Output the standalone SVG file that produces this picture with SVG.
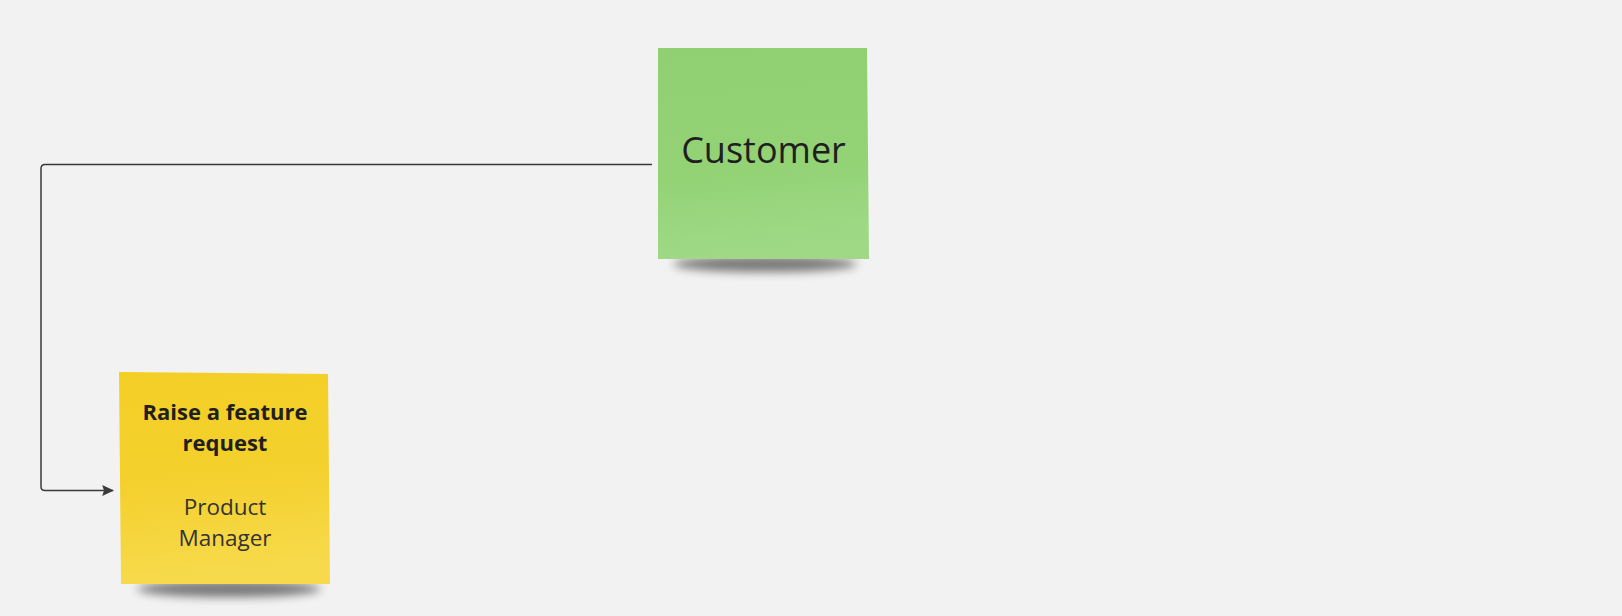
<svg xmlns="http://www.w3.org/2000/svg" width="1622" height="616" viewBox="0 0 1622 616">
  <style>
    .title { font-family: "Open Sans", "Noto Sans", sans-serif; font-size: 36px; fill: #1f1f1f; }
    .bold { font-family: "Open Sans", "Noto Sans", sans-serif; font-size: 22px; font-weight: bold; fill: #1f1f1f; }
    .reg { font-family: "Open Sans", "Noto Sans", sans-serif; font-size: 22.5px; fill: #333333; }
    .conn { fill: none; stroke: #3a3a3a; stroke-width: 1.5; }
  </style>
  <defs>
    <linearGradient id="gGreen" x1="0" y1="0" x2="0.1" y2="1">
      <stop offset="0" stop-color="#90d072"/>
      <stop offset="0.6" stop-color="#93d275"/>
      <stop offset="1" stop-color="#9fd986"/>
    </linearGradient>
    <linearGradient id="gYellow" x1="0" y1="0" x2="0.1" y2="1">
      <stop offset="0" stop-color="#f3cf26"/>
      <stop offset="0.5" stop-color="#f4d02c"/>
      <stop offset="1" stop-color="#f7da4c"/>
    </linearGradient>
    <filter id="shadow" x="-20%" y="-100%" width="140%" height="300%">
      <feGaussianBlur stdDeviation="5"/>
    </filter>
    <marker id="arrow" viewBox="0 0 10 10" refX="9" refY="5" markerWidth="12" markerHeight="12" markerUnits="userSpaceOnUse" orient="auto">
      <path d="M0,0.5 L10,5 L0,9.5 L1.5,5 Z" fill="#3a3a3a"/>
    </marker>
  </defs>
  <rect width="1622" height="616" fill="#f2f2f2"/>

  <g id="connectors">
    <path class="conn" d="M652,164.5 L45,164.5 Q41,164.5 41,168.5 L41,486.5 Q41,490.5 45,490.5 L113,490.5" marker-end="url(#arrow)"/>
  </g>

  <g id="customer">
    <ellipse cx="765" cy="264" rx="92" ry="8" fill="#000" opacity="0.5" filter="url(#shadow)"/>
    <polygon points="658,48 867,48 869,259 658,259" fill="url(#gGreen)"/>
    <text class="title" x="763.5" y="163" text-anchor="middle">Customer</text>
  </g>

  <g id="feature-request">
    <ellipse cx="229" cy="589" rx="92" ry="8" fill="#000" opacity="0.5" filter="url(#shadow)"/>
    <polygon points="119,372 328,374 330,584 121,584" fill="url(#gYellow)"/>
    <text class="bold" x="225" y="420" text-anchor="middle">Raise a feature</text>
    <text class="bold" x="225" y="451" text-anchor="middle">request</text>
    <text class="reg" x="225" y="515" text-anchor="middle">Product</text>
    <text class="reg" x="225" y="546" text-anchor="middle">Manager</text>
  </g>
</svg>
